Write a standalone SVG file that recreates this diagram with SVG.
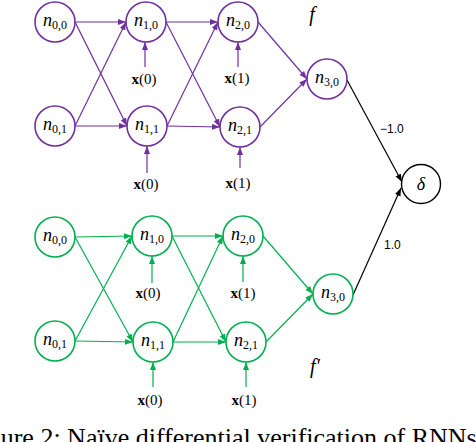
<svg xmlns="http://www.w3.org/2000/svg" width="476" height="442" viewBox="0 0 476 442">
<style>
.np{fill:#fff;stroke:#7030A0;stroke-width:1.6}
.ng{fill:#fff;stroke:#00B050;stroke-width:1.6}
.nk{fill:#fff;stroke:#000;stroke-width:1.4}
.ep{stroke:#7030A0;stroke-width:1.2;fill:none;marker-end:url(#ap)}
.eg{stroke:#00B050;stroke-width:1.2;fill:none;marker-end:url(#ag)}
.ek{stroke:#000;stroke-width:1.2;fill:none;marker-end:url(#ak)}
.lbl{font-family:'Liberation Serif',serif;font-size:18px;text-anchor:middle;fill:#000}
.sub{font-size:12px}
.inp{font-family:'Liberation Serif',serif;font-size:15px;text-anchor:middle;fill:#000}
.w{font-family:'Liberation Sans',sans-serif;font-size:12px;fill:#000}
.fl{font-family:'Liberation Serif',serif;font-style:italic;font-size:20px;text-anchor:middle;fill:#000}
</style>
<defs>
<marker id="ap" markerUnits="userSpaceOnUse" markerWidth="9" markerHeight="7" refX="8" refY="3" orient="auto"><path d="M0,0 L8,3 L0,6 z" fill="#7030A0"/></marker>
<marker id="ag" markerUnits="userSpaceOnUse" markerWidth="9" markerHeight="7" refX="8" refY="3" orient="auto"><path d="M0,0 L8,3 L0,6 z" fill="#00B050"/></marker>
<marker id="ak" markerUnits="userSpaceOnUse" markerWidth="9" markerHeight="7" refX="8" refY="3" orient="auto"><path d="M0,0 L8,3 L0,6 z" fill="#000"/></marker>
</defs>
<g id="connectors">
<line class="ep" x1="75" y1="22" x2="126" y2="22"/>
<line class="ep" x1="75" y1="22" x2="127" y2="126"/>
<line class="ep" x1="75" y1="126" x2="126" y2="22"/>
<line class="ep" x1="75" y1="126" x2="127" y2="126"/>
<line class="ep" x1="166" y1="22" x2="218" y2="22"/>
<line class="ep" x1="166" y1="22" x2="220" y2="127"/>
<line class="ep" x1="167" y1="126" x2="218" y2="22"/>
<line class="ep" x1="167" y1="126" x2="220" y2="127"/>
<line class="ep" x1="258" y1="22" x2="307" y2="79"/>
<line class="ep" x1="260" y1="127" x2="307" y2="79"/>
<line class="ep" x1="145" y1="67" x2="145" y2="42"/>
<line class="ep" x1="147" y1="173" x2="147" y2="146"/>
<line class="ep" x1="238" y1="67" x2="238" y2="42"/>
<line class="ep" x1="240" y1="168" x2="240" y2="147"/>
<line class="ek" x1="347" y1="80" x2="402" y2="182"/>
<line class="ek" x1="353" y1="295" x2="401" y2="188"/>
<line class="eg" x1="75" y1="237" x2="132" y2="236"/>
<line class="eg" x1="75" y1="237" x2="133" y2="342"/>
<line class="eg" x1="75" y1="341" x2="132" y2="236"/>
<line class="eg" x1="75" y1="341" x2="133" y2="342"/>
<line class="eg" x1="172" y1="236" x2="223" y2="236"/>
<line class="eg" x1="172" y1="236" x2="226" y2="342"/>
<line class="eg" x1="173" y1="342" x2="223" y2="236"/>
<line class="eg" x1="173" y1="342" x2="226" y2="342"/>
<line class="eg" x1="263" y1="236" x2="313" y2="294"/>
<line class="eg" x1="266" y1="342" x2="313" y2="294"/>
<line class="eg" x1="152" y1="283" x2="152" y2="256"/>
<line class="eg" x1="153" y1="387" x2="153" y2="362"/>
<line class="eg" x1="243" y1="282" x2="243" y2="256"/>
<line class="eg" x1="246" y1="387" x2="246" y2="362"/>
</g>
<g id="labels">
<text class="w" x="380" y="133">−1.0</text>
<text class="w" x="384" y="249">1.0</text>
<text class="inp" x="144" y="84"><tspan font-weight="bold">x</tspan>(0)</text>
<text class="inp" x="146" y="189"><tspan font-weight="bold">x</tspan>(0)</text>
<text class="inp" x="237" y="83"><tspan font-weight="bold">x</tspan>(1)</text>
<text class="inp" x="238" y="188"><tspan font-weight="bold">x</tspan>(1)</text>
<text class="inp" x="148" y="298"><tspan font-weight="bold">x</tspan>(0)</text>
<text class="inp" x="150" y="405"><tspan font-weight="bold">x</tspan>(0)</text>
<text class="inp" x="243" y="298"><tspan font-weight="bold">x</tspan>(1)</text>
<text class="inp" x="244" y="405"><tspan font-weight="bold">x</tspan>(1)</text>
<text class="fl" x="312" y="21">f</text>
<text class="fl" x="315" y="373">f′</text>
<text x="-34" y="446" font-family="'Liberation Serif',serif" font-size="26">Figure 2: Naïve differential verification of RNNs</text>
</g>
<g id="n00"><circle class="np" cx="55" cy="22" r="20"/><text class="lbl" x="55" y="26"><tspan font-style="italic">n</tspan><tspan class="sub" dy="3">0,0</tspan></text></g>
<g id="n10"><circle class="np" cx="146" cy="22" r="20"/><text class="lbl" x="146" y="26"><tspan font-style="italic">n</tspan><tspan class="sub" dy="3">1,0</tspan></text></g>
<g id="n20"><circle class="np" cx="238" cy="22" r="20"/><text class="lbl" x="238" y="26"><tspan font-style="italic">n</tspan><tspan class="sub" dy="3">2,0</tspan></text></g>
<g id="n01"><circle class="np" cx="55" cy="126" r="20"/><text class="lbl" x="55" y="130"><tspan font-style="italic">n</tspan><tspan class="sub" dy="3">0,1</tspan></text></g>
<g id="n11"><circle class="np" cx="147" cy="126" r="20"/><text class="lbl" x="147" y="130"><tspan font-style="italic">n</tspan><tspan class="sub" dy="3">1,1</tspan></text></g>
<g id="n21"><circle class="np" cx="240" cy="127" r="20"/><text class="lbl" x="240" y="131"><tspan font-style="italic">n</tspan><tspan class="sub" dy="3">2,1</tspan></text></g>
<g id="n30"><circle class="np" cx="327" cy="79" r="20"/><text class="lbl" x="327" y="83"><tspan font-style="italic">n</tspan><tspan class="sub" dy="3">3,0</tspan></text></g>
<g id="delta"><circle class="nk" cx="421" cy="184" r="19.5"/><text class="lbl" x="421" y="190" font-style="italic">δ</text></g>
<g id="m00"><circle class="ng" cx="55" cy="237" r="20"/><text class="lbl" x="55" y="241"><tspan font-style="italic">n</tspan><tspan class="sub" dy="3">0,0</tspan></text></g>
<g id="m10"><circle class="ng" cx="152" cy="236" r="20"/><text class="lbl" x="152" y="240"><tspan font-style="italic">n</tspan><tspan class="sub" dy="3">1,0</tspan></text></g>
<g id="m20"><circle class="ng" cx="243" cy="236" r="20"/><text class="lbl" x="243" y="240"><tspan font-style="italic">n</tspan><tspan class="sub" dy="3">2,0</tspan></text></g>
<g id="m01"><circle class="ng" cx="55" cy="341" r="20"/><text class="lbl" x="55" y="345"><tspan font-style="italic">n</tspan><tspan class="sub" dy="3">0,1</tspan></text></g>
<g id="m11"><circle class="ng" cx="153" cy="342" r="20"/><text class="lbl" x="153" y="346"><tspan font-style="italic">n</tspan><tspan class="sub" dy="3">1,1</tspan></text></g>
<g id="m21"><circle class="ng" cx="246" cy="342" r="20"/><text class="lbl" x="246" y="346"><tspan font-style="italic">n</tspan><tspan class="sub" dy="3">2,1</tspan></text></g>
<g id="m30"><circle class="ng" cx="333" cy="294" r="20"/><text class="lbl" x="333" y="298"><tspan font-style="italic">n</tspan><tspan class="sub" dy="3">3,0</tspan></text></g>
</svg>
